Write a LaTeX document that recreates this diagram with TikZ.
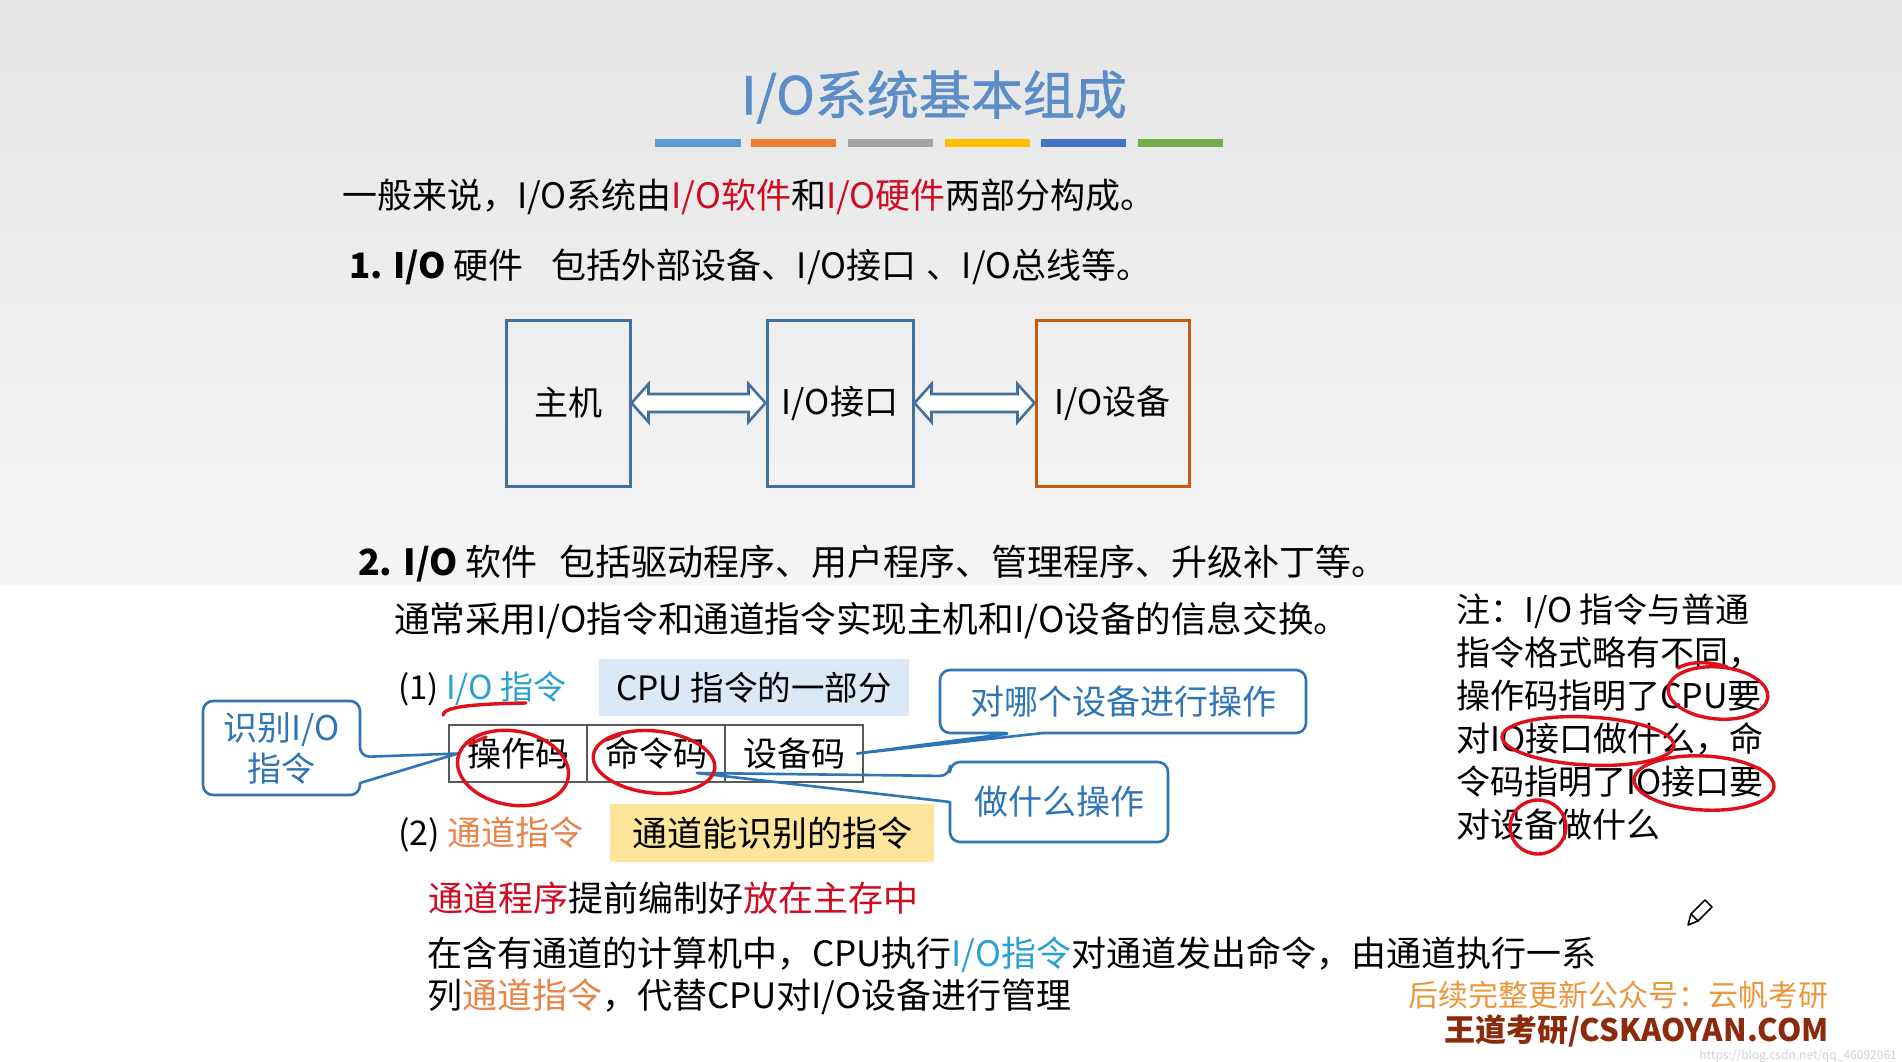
\documentclass[tikz,border=0pt]{standalone}
\usepackage{fontspec}
\setmainfont{Noto Sans CJK SC}
\newfontfamily\titlefont[FakeBold=1.2]{Noto Sans CJK SC}
\usetikzlibrary{calc}
\definecolor{titleblue}{RGB}{91,142,200}
\definecolor{boxblue}{RGB}{65,113,156}
\definecolor{boxorange}{RGB}{197,90,17}
\definecolor{txtred}{RGB}{208,10,35}
\definecolor{txtcyan}{RGB}{40,160,212}
\definecolor{txtorange}{RGB}{232,132,74}
\definecolor{coblue}{RGB}{46,117,182}
\definecolor{cpufill}{RGB}{219,232,245}
\definecolor{chfill}{RGB}{253,230,155}
\definecolor{inkred}{RGB}{225,15,25}
\definecolor{wmorange}{RGB}{236,150,60}
\definecolor{wmdark}{RGB}{140,42,12}
\definecolor{barA}{RGB}{91,155,213}
\definecolor{barB}{RGB}{237,125,49}
\definecolor{barC}{RGB}{165,165,165}
\definecolor{barD}{RGB}{255,192,0}
\definecolor{barE}{RGB}{68,114,196}
\definecolor{barF}{RGB}{112,173,71}
\begin{document}
\begin{tikzpicture}[x=1pt,y=-1pt,
  txt/.style={anchor=west, inner sep=0, outer sep=0, font=\fontsize{35}{40}\selectfont},
  hwbox/.style={draw=boxblue, line width=3pt, minimum height=166, inner sep=0, font=\fontsize{34}{40}\selectfont},
  dbl/.style={draw=boxblue, line width=2.6pt, fill=white, line join=miter},
  cell/.style={draw=black!65, line width=1.2pt, minimum width=138, minimum height=57, inner sep=0, outer sep=0, font=\fontsize{34}{40}\selectfont},
  conode/.style={inner sep=0, outer sep=0, align=center, text=coblue, font=\fontsize{34}{41}\selectfont},
  coline/.style={draw=coblue, line width=2.6pt, line join=round},
  redink/.style={draw=inkred, line width=3.4pt, line cap=round}
]
\useasboundingbox (0,0) rectangle (1902,1062);
% background
\shade[top color=black!10, bottom color=black!4] (0,0) rectangle (1902,586);
\fill[white] (0,586) rectangle (1902,1062);

% title
\node[inner sep=0, text=titleblue, font=\titlefont\fontsize{52}{60}\selectfont] (title) at (934,97) {I/O系统基本组成};
\fill[barA] (655,139) rectangle (741,147);
\fill[barB] (751,139) rectangle (836,147);
\fill[barC] (848,139) rectangle (933,147);
\fill[barD] (945,139) rectangle (1030,147);
\fill[barE] (1041,139) rectangle (1126,147);
\fill[barF] (1138,139) rectangle (1223,147);

% intro lines
\node[txt] (l1) at (342,197) {一般来说，I/O系统由\textcolor{txtred}{I/O软件}和\textcolor{txtred}{I/O硬件}两部分构成。};
\node[txt] (l2) at (349,267) {\textbf{1. I/O} 硬件\hspace{0.8em}包括外部设备、I/O接口\hspace{0.3em}、I/O总线等。};

% hardware boxes
\node[hwbox, minimum width=124] (host) at (568,403) {主机};
\node[hwbox, minimum width=146] (intf) at (840,403) {I/O接口};
\node[hwbox, draw=boxorange, minimum width=153] (dev) at (1112.5,403) {I/O设备};
\draw[dbl] let \p1=(host.east), \p2=(intf.west) in
  (\x1,\y1) -- (\x1+17,\y1+19) -- (\x1+17,\y1+9) -- (\x2-17,\y1+9) -- (\x2-17,\y1+19) -- (\x2,\y1)
  -- (\x2-17,\y1-19) -- (\x2-17,\y1-9) -- (\x1+17,\y1-9) -- (\x1+17,\y1-19) -- cycle;
\draw[dbl] let \p1=(intf.east), \p2=(dev.west) in
  (\x1,\y1) -- (\x1+17,\y1+19) -- (\x1+17,\y1+9) -- (\x2-17,\y1+9) -- (\x2-17,\y1+19) -- (\x2,\y1)
  -- (\x2-17,\y1-19) -- (\x2-17,\y1-9) -- (\x1+17,\y1-9) -- (\x1+17,\y1-19) -- cycle;

% software
\node[txt, font=\fontsize{36}{40}\selectfont] (l3) at (358,564) {\textbf{2. I/O} 软件\hspace{0.6em}包括驱动程序、用户程序、管理程序、升级补丁等。};
\node[txt, font=\fontsize{35.6}{40}\selectfont] (l4) at (394,621) {通常采用I/O指令和通道指令实现主机和I/O设备的信息交换。};

\node[txt, font=\fontsize{33}{40}\selectfont] (io) at (398,689) {(1) \textcolor{txtcyan}{I/O 指令}};
\node[fill=cpufill, minimum width=310, minimum height=57, inner sep=0, font=\fontsize{33.5}{38}\selectfont] (cpu) at (754,687.5) {CPU 指令的一部分};

\node[cell] (op) at (518,753.5) {操作码};
\node[cell, anchor=west] (cmd) at (op.east) {命令码};
\node[cell, anchor=west] (devc) at (cmd.east) {设备码};

\node[txt, font=\fontsize{34}{40}\selectfont] (ch) at (398,834) {(2) \textcolor{txtorange}{通道指令}};
\node[fill=chfill, minimum width=324, minimum height=58, inner sep=0, font=\fontsize{35}{40}\selectfont] (chbox) at (772,833) {通道能识别的指令};

% callouts
\node[conode, minimum width=157, minimum height=94] (co1) at (281.5,748) {识别I/O\\指令};
\node[conode, minimum width=366, minimum height=63] (co2) at (1123,701.5) {对哪个设备进行操作};
\node[conode, minimum width=218, minimum height=80] (co3) at (1059,802) {做什么操作};

\draw[coline] let \p1=(co1.south west), \p2=(co1.north east), \p3=($(op.west)+(9,0)$) in
  [rounded corners=10pt] (\x2,\y1+12) -- (\x2,\y1) -- (\x1,\y1) -- (\x1,\y2) -- (\x2,\y2) -- (\x2,\y1+38)
  [sharp corners] -- (\x3,\y3) -- cycle;
\draw[coline] let \p1=(co2.south west), \p2=(co2.north east), \p3=($(devc.east)+(-6,0)$) in
  [rounded corners=10pt] (\x1+103,\y1) -- (\x2,\y1) -- (\x2,\y2) -- (\x1,\y2) -- (\x1,\y1) -- (\x1+73,\y1)
  [sharp corners] -- (\x3,\y3) -- cycle;
\draw[coline] let \p1=(co3.south west), \p2=(co3.north east), \p3=($(cmd.south east)+(-28,-9)$) in
  [rounded corners=10pt] (\x1,\y2-40) -- (\x1,\y1) -- (\x2,\y1) -- (\x2,\y2) -- (\x1,\y2) -- (\x1,\y2-14)
  [sharp corners] -- (\x3,\y3) -- cycle;

% bottom text
\node[txt] (prog) at (428,898) {\textcolor{txtred}{通道程序}提前编制好\textcolor{txtred}{放在主存中}};
\node[txt, font=\fontsize{35}{40}\selectfont] (l5) at (427,955) {在含有通道的计算机中，CPU执行\textcolor{txtcyan}{I/O指令}对通道发出命令，由通道执行一系};
\node[txt, font=\fontsize{35}{40}\selectfont] (l6) at (427,997) {列\textcolor{txtorange}{通道指令}，代替CPU对I/O设备进行管理};

% note
\node[anchor=north west, inner sep=0, align=left, font=\fontsize{34}{43}\selectfont] (note) at (1456,594)
  {注：I/O 指令与普通\\指令格式略有不同，\\操作码指明了CPU要\\对IO接口做什么，命\\令码指明了IO接口要\\对设备做什么};

% handwriting
\draw[redink] (513,768) ellipse [x radius=56, y radius=37, rotate=-10];
\draw[redink] (470,744) -- (486,737);
\draw[redink] (654,762) ellipse [x radius=61, y radius=31, rotate=-6];
\draw[redink] (606,740) -- (620,735);
\draw[redink] (443,715) .. controls (444,707) and (470,704) .. (526,703);
\draw[redink] (1718,693) ellipse [x radius=50, y radius=26, rotate=-5];
\draw[redink] (1678,668) .. controls (1692,660) and (1712,662) .. (1727,667);
\draw[redink] (1588,741) ellipse [x radius=86, y radius=24, rotate=-3];
\draw[redink] (1704,783) ellipse [x radius=70, y radius=27, rotate=-3];
\draw[redink] (1538,827) ellipse [x radius=28, y radius=27];

% pencil icon
\draw[line width=1.6pt, line join=round] (1688,925) -- (1691,914) -- (1705,900) -- (1712,907) -- (1698,921) -- cycle;
\draw[line width=1.6pt] (1691,914) -- (1698,921);

% watermarks
\node[anchor=east, inner sep=0, text=wmorange, font=\fontsize{30}{34}\selectfont] (wm1) at (1829,995) {后续完整更新公众号：云帆考研};
\node[anchor=east, inner sep=0, text=wmdark, font=\bfseries\fontsize{31}{36}\selectfont] (wm2) at (1829,1031) {王道考研/CSKAOYAN.COM};
\node[anchor=east, inner sep=0, text=black!18, font=\fontsize{12}{14}\selectfont] (wm3) at (1897,1056) {https://blog.csdn.net/qq\_46092061};
\end{tikzpicture}
\end{document}
